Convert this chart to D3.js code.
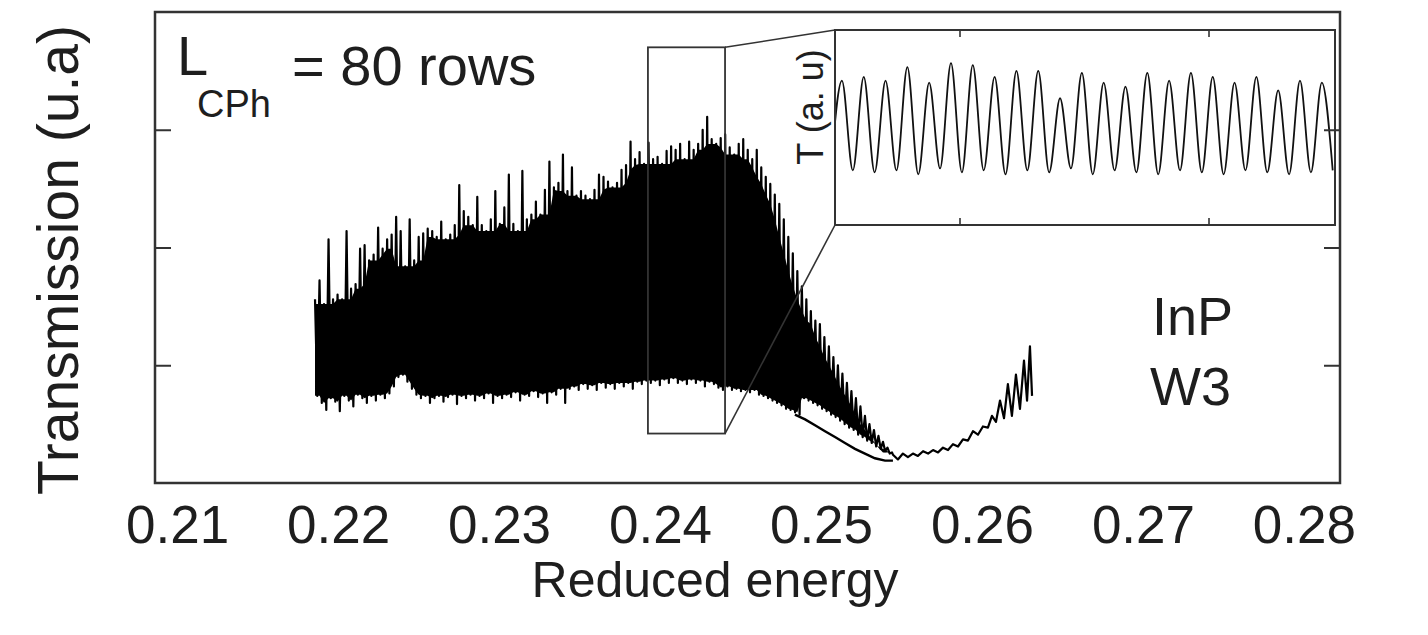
<!DOCTYPE html>
<meta charset="utf-8">
<script src="https://d3js.org/d3.v7.min.js"></script>
<style>
  body { margin: 0; background: #fff; }
  text { font-family: "Liberation Sans", Arial, Helvetica, sans-serif; fill: #1e1e1e; }
</style>
<div id="chart"></div>
<script>
// axis ticks
var xTicks = [0.21, 0.22, 0.23, 0.24, 0.25, 0.26, 0.27, 0.28];
var yTicks = [1, 2, 3];

// fast transmission oscillation, sampled on a regular energy grid:
// one maximum and one minimum per period
var oscStart = 0.21857;
var oscStep = 0.00028;
var peaks = [
  1.56, 1.72, 1.52, 2.07, 1.56, 1.60, 1.56, 2.14, 1.65, 1.69,
  1.99, 2.02, 1.89, 1.94, 2.17, 1.99, 2.07, 2.11, 2.26, 2.14,
  1.84, 2.24, 1.89, 2.09, 2.12, 2.16, 2.14, 2.09, 2.22, 2.07,
  2.11, 2.19, 2.53, 2.31, 2.26, 2.19, 2.43, 2.19, 2.14, 2.24,
  2.48, 2.20, 2.34, 2.62, 2.20, 2.14, 2.65, 2.24, 2.28, 2.39,
  2.28, 2.49, 2.73, 2.51, 2.55, 2.79, 2.48, 2.68, 2.44, 2.48,
  2.44, 2.41, 2.49, 2.62, 2.60, 2.56, 2.51, 2.55, 2.66, 2.70,
  2.90, 2.75, 2.81, 2.71, 2.89, 2.75, 2.77, 2.71, 2.82, 2.86,
  2.83, 2.88, 2.75, 2.90, 2.83, 2.88, 3.00, 3.11, 2.92, 2.88,
  2.93, 2.96, 2.85, 2.79, 2.88, 2.92, 2.83, 2.75, 2.83, 2.68,
  2.60, 2.54, 2.45, 2.37, 2.24, 2.09, 1.95, 1.80, 1.67, 1.56,
  1.46, 1.38, 1.35, 1.24, 1.16, 1.07, 1.00, 0.93, 0.85, 0.78,
  0.72, 0.65, 0.57, 0.50, 0.45, 0.40, 0.35, 0.30, 0.26
];
var troughs = [
  0.74, 0.68, 0.62, 0.72, 0.69, 0.61, 0.74, 0.70, 0.65, 0.75,
  0.72, 0.68, 0.74, 0.70, 0.75, 0.72, 0.76, 0.82, 0.90, 0.92,
  0.86, 0.80, 0.75, 0.72, 0.74, 0.68, 0.72, 0.74, 0.69, 0.73,
  0.75, 0.67, 0.74, 0.72, 0.75, 0.70, 0.74, 0.72, 0.76, 0.68,
  0.74, 0.72, 0.75, 0.73, 0.77, 0.70, 0.75, 0.74, 0.78, 0.73,
  0.76, 0.68, 0.77, 0.75, 0.80, 0.68, 0.80, 0.82, 0.79, 0.84,
  0.80, 0.83, 0.79, 0.85, 0.81, 0.84, 0.80, 0.85, 0.82, 0.85,
  0.80, 0.86, 0.84, 0.87, 0.85, 0.87, 0.83, 0.88, 0.85, 0.89,
  0.85, 0.87, 0.84, 0.88, 0.85, 0.87, 0.82, 0.86, 0.84, 0.81,
  0.79, 0.82, 0.79, 0.80, 0.78, 0.79, 0.77, 0.79, 0.75, 0.74,
  0.72, 0.70, 0.68, 0.66, 0.63, 0.62, 0.60, 0.58, 0.72, 0.70,
  0.68, 0.66, 0.63, 0.61, 0.58, 0.56, 0.53, 0.50, 0.47, 0.45,
  0.41, 0.39, 0.36, 0.34, 0.31, 0.29, 0.27, 0.25
];

// lower branch splitting off at the band edge
var branchE = [0.24838, 0.24901, 0.24963, 0.25025, 0.25087, 0.25149, 0.25211, 0.25273, 0.25335, 0.25398, 0.25447];
var branchT = [0.58, 0.54, 0.49, 0.44, 0.39, 0.34, 0.29, 0.25, 0.21, 0.19, 0.19];

// tail after the two branches merge
var tailE = [0.25447, 0.25478, 0.25509, 0.25540, 0.25571, 0.25602, 0.25634, 0.25665, 0.25696, 0.25727,
             0.25758, 0.25789, 0.25820, 0.25851, 0.25882, 0.25913, 0.25944, 0.25975, 0.26006, 0.26037,
             0.26062, 0.26087, 0.26112, 0.26137, 0.26161, 0.26186, 0.26211, 0.26236, 0.26261, 0.26280,
             0.26298, 0.26311];
var tailT = [0.24, 0.20, 0.25, 0.22, 0.25, 0.23, 0.27, 0.25, 0.28, 0.26,
             0.30, 0.28, 0.33, 0.31, 0.37, 0.36, 0.44, 0.41, 0.48, 0.47,
             0.57, 0.52, 0.70, 0.55, 0.84, 0.57, 0.92, 0.63, 1.04, 0.70,
             1.16, 0.74];

// zoom window drawn on the main plot
var zoomE = [0.23925, 0.24404];
var zoomT = [0.42, 3.70];

// inset: magnified oscillation (alternating minimum / maximum, half a period apart)
var insetTicks = [0.24, 0.2425];
var insetStart = 0.23871;
var insetHalf = 0.0001095;
var insetT = [
  0.30, 0.74, 0.28, 0.76, 0.27, 0.74, 0.28, 0.81, 0.26, 0.73, 0.29, 0.83,
  0.27, 0.82, 0.28, 0.76, 0.26, 0.79, 0.28, 0.79, 0.27, 0.65, 0.29, 0.78,
  0.26, 0.73, 0.28, 0.71, 0.27, 0.78, 0.26, 0.74, 0.28, 0.78, 0.27, 0.76,
  0.26, 0.73, 0.28, 0.76, 0.27, 0.69, 0.26, 0.74, 0.27, 0.73, 0.28
];

var W = 1428, H = 635;
var margin = {top: 12, right: 88, bottom: 152, left: 155};
var inset = {left: 835, right: 1335, top: 30, bottom: 225};

var svg = d3.select("#chart").append("svg")
    .attr("width", W)
    .attr("height", H);

var x = d3.scaleLinear()
    .domain([0.20863, 0.28224])
    .range([margin.left, W - margin.right]);

var y = d3.scaleLinear()
    .domain([0, 4])
    .range([H - margin.bottom, margin.top]);

// main trace: oscillation then tail
var trace = [];
peaks.forEach(function(p, i) {
    trace.push([oscStart + i * oscStep, p]);
    if (i < troughs.length) trace.push([oscStart + (i + 0.5) * oscStep, troughs[i]]);
});
tailE.forEach(function(e, i) { trace.push([e, tailT[i]]); });

// the printed trace is so dense it reads as a solid band: fill between
// neighbouring extrema so the core comes out black like the original
var core = peaks.map(function(p, i) {
    var top = d3.min(peaks.slice(Math.max(0, i - 2), i + 3));
    var bot = d3.max(troughs.slice(Math.max(0, i - 1), i + 1));
    return {e: oscStart + i * oscStep, top: top, bot: bot};
});

svg.append("path")
    .datum(core)
    .attr("fill", "#000")
    .attr("d", d3.area()
        .x(function(d) { return x(d.e); })
        .y0(function(d) { return y(d.bot); })
        .y1(function(d) { return y(d.top); }));

var line = d3.line()
    .x(function(d) { return x(d[0]); })
    .y(function(d) { return y(d[1]); });

svg.append("path")
    .datum(trace)
    .attr("fill", "none")
    .attr("stroke", "#000")
    .attr("stroke-width", 2.2)
    .attr("stroke-linejoin", "round")
    .attr("d", line);

svg.append("path")
    .datum(branchE.map(function(e, i) { return [e, branchT[i]]; }))
    .attr("fill", "none")
    .attr("stroke", "#000")
    .attr("stroke-width", 2.4)
    .attr("d", line);

// zoom window + connectors
svg.append("rect")
    .attr("x", x(zoomE[0]))
    .attr("y", y(zoomT[1]))
    .attr("width", x(zoomE[1]) - x(zoomE[0]))
    .attr("height", y(zoomT[0]) - y(zoomT[1]))
    .attr("fill", "none")
    .attr("stroke", "#333")
    .attr("stroke-width", 1.8);

svg.append("line")
    .attr("x1", x(zoomE[1])).attr("y1", y(zoomT[1]))
    .attr("x2", inset.left).attr("y2", inset.top)
    .attr("stroke", "#333").attr("stroke-width", 1.6);
svg.append("line")
    .attr("x1", x(zoomE[1])).attr("y1", y(zoomT[0]))
    .attr("x2", inset.left).attr("y2", inset.bottom)
    .attr("stroke", "#333").attr("stroke-width", 1.6);

// inset
var xi = d3.scaleLinear()
    .domain([0.23875, 0.24377])
    .range([inset.left, inset.right]);
var yi = d3.scaleLinear()
    .domain([0, 1])
    .range([inset.bottom, inset.top]);

svg.append("rect")
    .attr("x", inset.left).attr("y", inset.top)
    .attr("width", inset.right - inset.left)
    .attr("height", inset.bottom - inset.top)
    .attr("fill", "#fff");

svg.append("clipPath").attr("id", "insetClip")
  .append("rect")
    .attr("x", inset.left).attr("y", inset.top)
    .attr("width", inset.right - inset.left)
    .attr("height", inset.bottom - inset.top);

svg.append("path")
    .datum(insetT.map(function(v, j) { return [insetStart + j * insetHalf, v]; }))
    .attr("clip-path", "url(#insetClip)")
    .attr("fill", "none")
    .attr("stroke", "#111")
    .attr("stroke-width", 1.8)
    .attr("d", d3.line()
        .curve(d3.curveMonotoneX)
        .x(function(d) { return xi(d[0]); })
        .y(function(d) { return yi(d[1]); }));

var insetTop = svg.append("g")
    .attr("transform", "translate(0," + inset.top + ")")
    .call(d3.axisTop(xi).tickValues(insetTicks).tickSize(-7).tickFormat(""));
var insetBot = svg.append("g")
    .attr("transform", "translate(0," + inset.bottom + ")")
    .call(d3.axisBottom(xi).tickValues(insetTicks).tickSize(-7).tickFormat(""));
[insetTop, insetBot].forEach(function(g) {
    g.select(".domain").remove();
    g.selectAll("line").attr("stroke", "#333").attr("stroke-width", 1.6);
});

svg.append("rect")
    .attr("x", inset.left).attr("y", inset.top)
    .attr("width", inset.right - inset.left)
    .attr("height", inset.bottom - inset.top)
    .attr("fill", "none")
    .attr("stroke", "#333")
    .attr("stroke-width", 2);

svg.append("text")
    .attr("transform", "translate(" + (inset.left - 12) + ",107) rotate(-90)")
    .attr("text-anchor", "middle")
    .attr("font-size", "36px")
    .text("T (a. u)");

// frame
svg.append("rect")
    .attr("x", margin.left).attr("y", margin.top)
    .attr("width", W - margin.left - margin.right)
    .attr("height", H - margin.top - margin.bottom)
    .attr("fill", "none")
    .attr("stroke", "#333")
    .attr("stroke-width", 2.5);

// inward y ticks on both sides, no labels
var yl = svg.append("g")
    .attr("transform", "translate(" + margin.left + ",0)")
    .call(d3.axisLeft(y).tickValues(yTicks).tickSize(-16).tickFormat(""));
var yr = svg.append("g")
    .attr("transform", "translate(" + (W - margin.right) + ",0)")
    .call(d3.axisRight(y).tickValues(yTicks).tickSize(-16).tickFormat(""));
[yl, yr].forEach(function(g) {
    g.select(".domain").remove();
    g.selectAll("line").attr("stroke", "#333").attr("stroke-width", 2);
});

// x axis labels
var xa = svg.append("g")
    .attr("transform", "translate(0," + (H - margin.bottom) + ")")
    .call(d3.axisBottom(x).tickValues(xTicks).tickSize(0).tickPadding(22).tickFormat(d3.format(".2f")));
xa.select(".domain").remove();
xa.selectAll("text")
    .attr("font-size", "53px")
    .attr("font-family", "'Liberation Sans', Arial, sans-serif")
    .attr("fill", "#1e1e1e");

// axis titles
svg.append("text")
    .attr("x", 715).attr("y", 597)
    .attr("text-anchor", "middle")
    .attr("font-size", "50px")
    .text("Reduced energy");

svg.append("text")
    .attr("transform", "translate(78,260) rotate(-90)")
    .attr("text-anchor", "middle")
    .attr("font-size", "57px")
    .text("Transmission (u.a)");

// annotations
svg.append("text").attr("x", 177).attr("y", 75).attr("font-size", "56px").text("L");
svg.append("text").attr("x", 197).attr("y", 117).attr("font-size", "38px").text("CPh");
svg.append("text").attr("x", 292).attr("y", 85).attr("font-size", "56px").text("= 80 rows");

svg.append("text").attr("x", 1152).attr("y", 335).attr("font-size", "54px").text("InP");
svg.append("text").attr("x", 1150).attr("y", 405).attr("font-size", "54px").text("W3");
</script>
